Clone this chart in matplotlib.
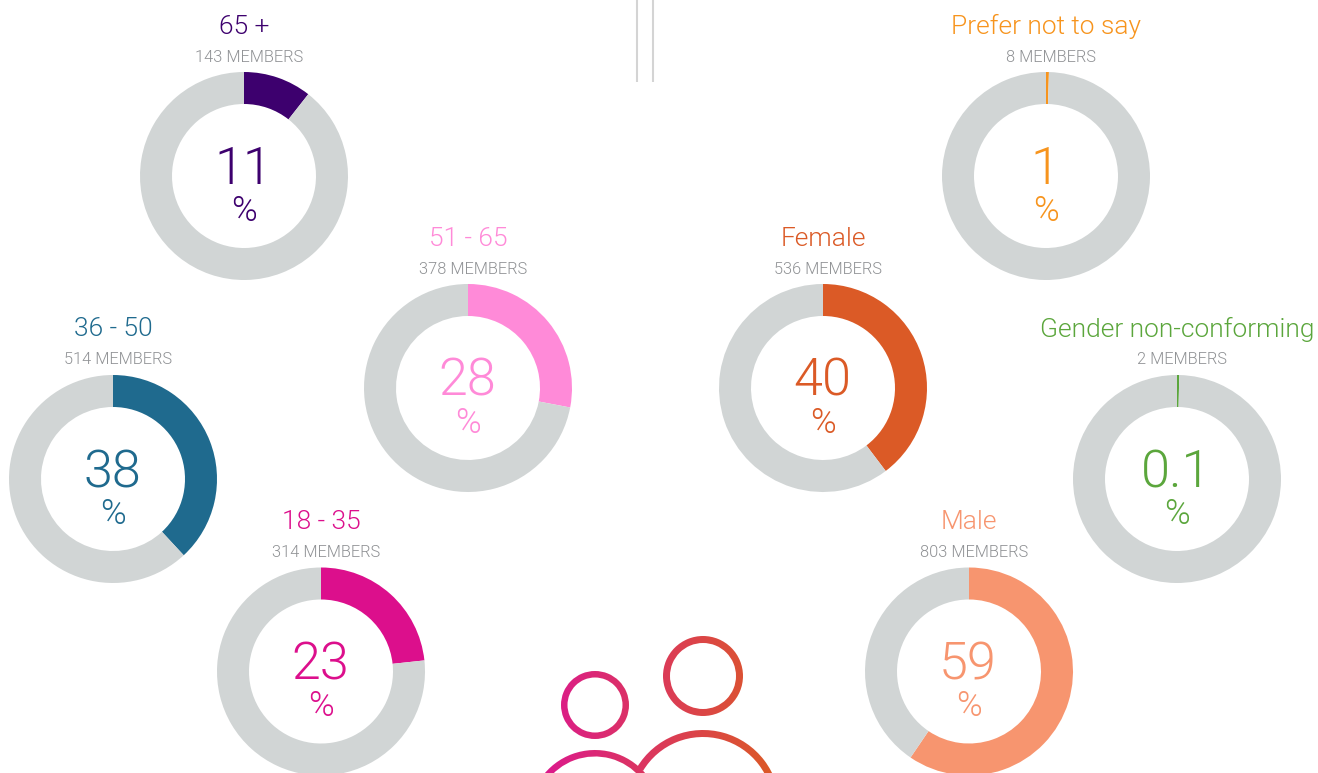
import numpy as np
import matplotlib.pyplot as plt
from matplotlib.patches import Wedge
from matplotlib.colors import LinearSegmentedColormap

plt.rcParams['font.family'] = ['Roboto', 'DejaVu Sans']

names = ['65 +', '51 - 65', '36 - 50', '18 - 35', 'Prefer not to say', 'Female', 'Gender non-conforming', 'Male']
members = [143, 378, 514, 314, 8, 536, 2, 803]
percent_labels = ['11', '28', '38', '23', '1', '40', '0.1', '59']
arc_values = [10.6, 28.0, 38.1, 23.3, 0.45, 39.7, 0.35, 59.5]
colors = ['#3D006E', '#FF8AD8', '#1F6A8E', '#DC0F8C', '#F7941D', '#DB5A26', '#5BA63C', '#F7956F']
centers_x = [244, 468, 113, 321, 1046, 823, 1177, 969]
centers_y = [176, 388, 479, 671.5, 176, 388, 479, 671.5]

W, H = 1318, 773
GREY = '#D1D5D5'
R = 104

fig = plt.figure(figsize=(W / 100, H / 100), dpi=100)
ax = fig.add_axes([0, 0, 1, 1])


def py(y):
    # picture rows run downwards, the axes upwards
    return H - y


for i in range(len(names)):
    cx, cy = centers_x[i], py(centers_y[i])
    ax.pie([arc_values[i], 100 - arc_values[i]], colors=[colors[i], GREY], center=(cx, cy), radius=R,
           startangle=90, counterclock=False, wedgeprops={'width': 32, 'linewidth': 0})
    ax.text(cx, cy + 149.5, names[i], color=colors[i], fontsize=19, fontweight=300, ha='center', va='center')
    ax.text(cx + 5, cy + 119, f'{members[i]} MEMBERS', color='#8F9194', fontsize=11.8, fontweight=300, ha='center', va='center')
    ax.text(cx - 1, cy + 6, percent_labels[i], color=colors[i], fontsize=37.5, fontweight=300, ha='center', va='center')
    ax.text(cx, cy - 35, '%', color=colors[i], fontsize=25, fontweight=300, ha='center', va='center')

# two divider lines at the top
for x in [637, 653]:
    ax.plot([x, x], [py(0), py(82)], color='#D4D4D4', lw=1.5, solid_capstyle='butt')

# people icon, pink to orange from left to right
cmap = LinearSegmentedColormap.from_list('icon', ['#DC1A8C', '#DB5A26'])
gradient = np.linspace(0, 1, 256).reshape(1, -1)
icon_parts = [
    (595, 705, 34, 0, 360, 6.5),
    (703, 676, 40, 0, 360, 7),
    (595, 816, 66, 40, 180, 6.5),
    (703, 807, 77, 0, 149, 7),
]
for x, y, r, t1, t2, w in icon_parts:
    im = ax.imshow(gradient, cmap=cmap, extent=[545, 775, py(773), py(630)], aspect='auto', zorder=3)
    part = Wedge((x, py(y)), r, t1, t2, width=w, transform=ax.transData, facecolor='none', edgecolor='none')
    ax.add_patch(part)
    im.set_clip_path(part)

ax.set_xlim(0, W)
ax.set_ylim(0, H)
ax.set_aspect('auto')
ax.axis('off')
fig.savefig('out.png', dpi=100, facecolor='white')
